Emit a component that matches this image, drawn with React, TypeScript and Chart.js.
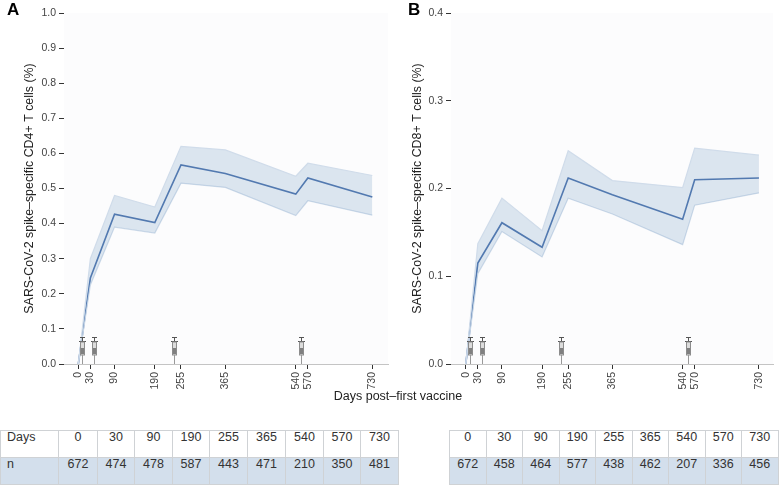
import React, { useEffect, useRef } from "react";
import { Chart, registerables } from "chart.js";

Chart.register(...registerables);

const days = [0, 30, 90, 190, 255, 365, 540, 570, 730];
const syringeDays = [10, 40, 237, 553];
const meanA = [0, 0.245, 0.427, 0.403, 0.567, 0.543, 0.484, 0.53, 0.476];
const upperA = [0, 0.3, 0.48, 0.447, 0.62, 0.61, 0.535, 0.572, 0.537];
const lowerA = [0, 0.225, 0.39, 0.373, 0.515, 0.503, 0.423, 0.465, 0.424];
const meanB = [0, 0.115, 0.161, 0.133, 0.212, 0.193, 0.165, 0.21, 0.212];
const upperB = [0, 0.137, 0.189, 0.152, 0.243, 0.209, 0.201, 0.246, 0.238];
const lowerB = [0, 0.103, 0.151, 0.122, 0.189, 0.171, 0.136, 0.181, 0.195];
const nA = [672, 474, 478, 587, 443, 471, 210, 350, 481];
const nB = [672, 458, 464, 577, 438, 462, 207, 336, 456];
const FONT = '"Liberation Sans", Arial, sans-serif';

const pts = (v: number[]) => days.map((d, i) => ({ x: d, y: v[i] }));

const panelPlugin = {
  id: "panel",
  beforeDatasetsDraw(chart: any) {
    const { ctx, chartArea: a } = chart;
    ctx.save();
    ctx.fillStyle = "#fcfcfd";
    ctx.fillRect(a.left, a.top, a.right - a.left, a.bottom - a.top);
    ctx.restore();
  },
  afterDatasetsDraw(chart: any) {
    const { ctx, chartArea: a, scales } = chart;
    ctx.save();
    for (const d of syringeDays) {
      const x = Math.round(scales.x.getPixelForValue(d)) + 0.5;
      const b = a.bottom;
      ctx.strokeStyle = "#555";
      ctx.lineWidth = 1;
      ctx.beginPath();
      ctx.moveTo(x - 2.5, b - 26.5);
      ctx.lineTo(x + 2.5, b - 26.5);
      ctx.moveTo(x, b - 26.5);
      ctx.lineTo(x, b - 22.5);
      ctx.moveTo(x - 3.5, b - 22.5);
      ctx.lineTo(x + 3.5, b - 22.5);
      ctx.stroke();
      ctx.fillStyle = "#dcdcdc";
      ctx.fillRect(x - 2, b - 22, 4, 13);
      ctx.strokeStyle = "#8c8c8c";
      ctx.strokeRect(x - 2, b - 22, 4, 13);
      ctx.fillStyle = "#808080";
      ctx.fillRect(x - 1.5, b - 16, 3, 6);
      ctx.strokeStyle = "#999";
      ctx.beginPath();
      ctx.moveTo(x, b - 9);
      ctx.lineTo(x, b);
      ctx.stroke();
    }
    ctx.restore();
  },
};

function Panel(props: {
  left: number;
  width: number;
  plotLeft: number;
  plotRight: number;
  titleInset: number;
  xMin: number;
  xMax: number;
  yMax: number;
  yStep: number;
  yLabel: string;
  mean: number[];
  upper: number[];
  lower: number[];
}) {
  const ref = useRef<HTMLCanvasElement | null>(null);
  useEffect(() => {
    const chart = new Chart(ref.current as HTMLCanvasElement, {
      type: "line",
      data: {
        datasets: [
          {
            data: pts(props.upper),
            borderColor: "#d0dcea",
            borderWidth: 1.2,
            pointRadius: 0,
            fill: "+1",
            backgroundColor: "rgba(130,165,205,0.27)",
            tension: 0,
          },
          {
            data: pts(props.lower),
            borderColor: "#d0dcea",
            borderWidth: 1.2,
            pointRadius: 0,
            fill: false,
            tension: 0,
          },
          {
            data: pts(props.mean),
            borderColor: "#4169a6",
            borderWidth: 1.6,
            pointRadius: 0,
            fill: false,
            tension: 0,
          },
        ],
      } as any,
      options: {
        animation: false,
        responsive: false,
        layout: { padding: { top: 13, left: 0, right: props.width - props.plotRight, bottom: 0 } },
        plugins: { legend: { display: false }, tooltip: { enabled: false } },
        scales: {
          x: {
            type: "linear",
            min: props.xMin,
            max: props.xMax,
            afterBuildTicks: (s: any) => {
              s.ticks = days.map((d) => ({ value: d }));
            },
            afterFit: (s: any) => {
              s.height = 36;
            },
            grid: { display: true, drawOnChartArea: false, drawTicks: true, tickLength: 5, tickColor: "#333" },
            border: { color: "#c4c4c4", width: 1 },
            ticks: {
              autoSkip: false,
              minRotation: 90,
              maxRotation: 90,
              padding: 3,
              color: "#444",
              font: { family: FONT, size: 10.5 },
              callback: (v: any) => String(v),
            },
          },
          y: {
            min: 0,
            max: props.yMax,
            afterFit: (s: any) => {
              s.width = props.plotLeft;
            },
            grid: { display: true, drawOnChartArea: false, drawTicks: true, tickLength: 5, tickColor: "#333" },
            border: { color: "#c4c4c4", width: 1 },
            ticks: {
              stepSize: props.yStep,
              padding: 3,
              color: "#444",
              font: { family: FONT, size: 10.5 },
              callback: (v: any) => Number(v).toFixed(1),
            },
            title: {
              display: true,
              text: props.yLabel,
              color: "#222",
              font: { family: FONT, size: 12.4 },
              padding: { top: props.titleInset, bottom: 4 },
            },
          },
        },
      } as any,
      plugins: [panelPlugin],
    });
    return () => chart.destroy();
  }, []);
  return (
    <canvas
      ref={ref}
      width={props.width}
      height={400}
      style={{ position: "absolute", left: props.left, top: 0, width: props.width, height: 400 }}
    />
  );
}

function CountTable(props: { left: number; edges: number[]; first: string | null; counts: number[] }) {
  const cols = props.first !== null ? ["Days", ...days.map(String)] : days.map(String);
  const vals = props.first !== null ? [props.first, ...props.counts.map(String)] : props.counts.map(String);
  const row = (cells: string[], bg: string) => (
    <tr style={{ background: bg }}>
      {cells.map((c, i) => (
        <td
          key={i}
          style={{
            width: props.edges[i + 1] - props.edges[i],
            boxSizing: "border-box",
            border: "1px solid #cfd2d5",
            padding: 0,
            height: 27,
            verticalAlign: "top",
            lineHeight: "14px",
            textAlign: i === 0 && props.first !== null ? "left" : "center",
            paddingLeft: i === 0 && props.first !== null ? 6 : 0,
          }}
        >
          <div style={{ marginTop: -1 }}>{c}</div>
        </td>
      ))}
    </tr>
  );
  return (
    <table
      style={{
        position: "absolute",
        left: props.left,
        top: 430,
        borderCollapse: "collapse",
        tableLayout: "fixed",
        fontFamily: FONT,
        fontSize: 12.5,
        color: "#333",
      }}
    >
      <tbody>
        {row(cols, "#ffffff")}
        {row(vals, "#d3dfec")}
      </tbody>
    </table>
  );
}

const edgesA = [0, 58, 97, 134, 172, 209, 247, 285, 323, 360, 398];
const edgesB = [0, 36.5, 73, 109.5, 146, 182.5, 219, 255.5, 292, 328.5];

export default function App() {
  return (
    <div
      style={{
        position: "absolute",
        left: 0,
        top: 0,
        width: 780,
        height: 486,
        background: "#fff",
        overflow: "hidden",
        fontFamily: FONT,
      }}
    >
      <Panel
        left={0}
        width={400}
        plotLeft={64}
        plotRight={388}
        titleInset={22}
        xMin={-35.5}
        xMax={769}
        yMax={1}
        yStep={0.1}
        yLabel="SARS-CoV-2 spike–specific CD4+ T cells (%)"
        mean={meanA}
        upper={upperA}
        lower={lowerA}
      />
      <Panel
        left={400}
        width={380}
        plotLeft={51}
        plotRight={373}
        titleInset={10}
        xMin={-36.8}
        xMax={765}
        yMax={0.4}
        yStep={0.1}
        yLabel="SARS-CoV-2 spike–specific CD8+ T cells (%)"
        mean={meanB}
        upper={upperB}
        lower={lowerB}
      />
      <div style={{ position: "absolute", left: 7, top: 0, fontSize: 17, fontWeight: 700, color: "#000" }}>A</div>
      <div style={{ position: "absolute", left: 408, top: 0, fontSize: 17, fontWeight: 700, color: "#000" }}>B</div>
      <div
        style={{
          position: "absolute",
          left: 298,
          width: 200,
          top: 389,
          textAlign: "center",
          fontSize: 12.5,
          color: "#222",
        }}
      >
        Days post–first vaccine
      </div>
      <CountTable left={0} edges={edgesA} first="n" counts={nA} />
      <CountTable left={449} edges={edgesB} first={null} counts={nB} />
    </div>
  );
}
